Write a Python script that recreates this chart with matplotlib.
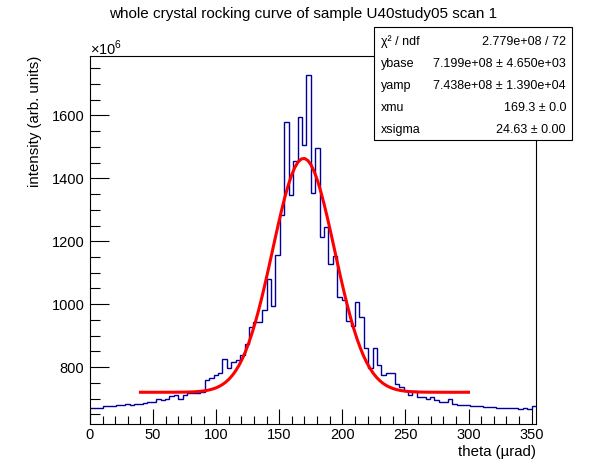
import numpy as np
import matplotlib
matplotlib.use("Agg")
import matplotlib.pyplot as plt
from matplotlib.ticker import MultipleLocator

plt.rcParams['font.family'] = ['Liberation Sans', 'DejaVu Sans']
plt.rcParams['mathtext.fontset'] = 'custom'
plt.rcParams['mathtext.rm'] = 'Liberation Sans'

# --- histogram: 101 bins of 3.5 urad, intensity in units of 1e6 ---
bin_width = 3.5
counts = [
    671, 671, 671, 675, 675, 675, 678, 678, 681, 678,
    684, 684, 687, 690, 690, 699, 694, 697, 707, 710,
    699, 710, 718, 718, 718, 720, 758, 766, 775, 782,
    827, 796, 817, 824, 839, 872, 928, 943, 943, 980,
    1081, 995, 1155, 1285, 1578, 1347, 1455, 1594, 1505, 1730,
    1355, 1495, 1213, 1244, 1129, 1154, 1024, 1014, 945, 931,
    1008, 960, 862, 797, 862, 805, 776, 781, 781, 747,
    738, 724, 712, 724, 706, 706, 699, 706, 694, 689,
    689, 699, 683, 680, 680, 680, 677, 677, 677, 674,
    674, 674, 671, 671, 671, 671, 671, 667, 671, 667,
    675,
]
edges = np.arange(len(counts) + 1) * bin_width

# --- gaussian + constant fit result (stats box) ---
ybase = 7.199e+08
yamp = 7.438e+08
xmu = 169.3
xsigma = 24.63
fit_range = (40, 300)
stats_labels = ["\u03c7\u00b2 / ndf", "ybase", "yamp", "xmu", "xsigma"]
stats_values = ["2.779e+08 / 72",
                "7.199e+08 \u00b1 4.650e+03",
                "7.438e+08 \u00b1 1.390e+04",
                "169.3 \u00b1 0.0",
                "24.63 \u00b1 0.00"]

W, H = 596, 472
fig = plt.figure(figsize=(W / 100, H / 100), dpi=100)
ax = fig.add_axes([90 / W, 1 - 424 / H, (536 - 90) / W, (424 - 56) / H])

ax.stairs(counts, edges, color='#000099', lw=1.0, baseline=None)

xf = np.linspace(fit_range[0], fit_range[1], 101)
yf = (ybase + yamp * np.exp(-0.5 * ((xf - xmu) / xsigma) ** 2)) / 1e6
ax.plot(xf, yf, color='red', lw=2.2)

ax.set_xlim(0, edges[-1])
ax.set_ylim(619, 1789)

ax.xaxis.set_major_locator(MultipleLocator(50))
ax.xaxis.set_minor_locator(MultipleLocator(10))
ax.yaxis.set_major_locator(MultipleLocator(200))
ax.yaxis.set_minor_locator(MultipleLocator(50))
ax.tick_params(which='both', direction='in', top=False, right=False,
               labelsize=10.5, width=0.8)
ax.tick_params(axis='y', which='major', length=14, pad=4)
ax.tick_params(axis='y', which='minor', length=7)
ax.tick_params(axis='x', which='major', length=11, pad=3)
ax.tick_params(axis='x', which='minor', length=5.5)
for sp in ax.spines.values():
    sp.set_linewidth(0.8)

fig.text(90 / W, 1 - 48 / H, "\u00d710$^{6}$", ha='left', va='center', fontsize=10.5)
fig.text(536 / W, 1 - 452 / H, "theta (\u00b5rad)", ha='right', va='center', fontsize=10.8)
fig.text(35 / W, 1 - 56 / H, "intensity (arb. units)", rotation=90,
         ha='center', va='top', fontsize=10.8)
fig.text(303 / W, 1 - 14 / H, "whole crystal rocking curve of sample U40study05 scan 1",
         ha='center', va='center', fontsize=11)

# stats box
bx0, bx1, by0, by1 = 374, 572, 27, 140
box = plt.Rectangle((bx0 / W, 1 - by1 / H), (bx1 - bx0) / W, (by1 - by0) / H,
                    transform=fig.transFigure, facecolor='white',
                    edgecolor='black', lw=0.8, zorder=5)
fig.add_artist(box)
row_y = [42, 64, 86, 108, 130]
for lab, val, ry in zip(stats_labels, stats_values, row_y):
    fig.text(381 / W, 1 - ry / H, lab, ha='left', va='center', fontsize=9, zorder=6)
    fig.text(566 / W, 1 - ry / H, val, ha='right', va='center', fontsize=9, zorder=6)

fig.savefig("out.png", dpi=100)
